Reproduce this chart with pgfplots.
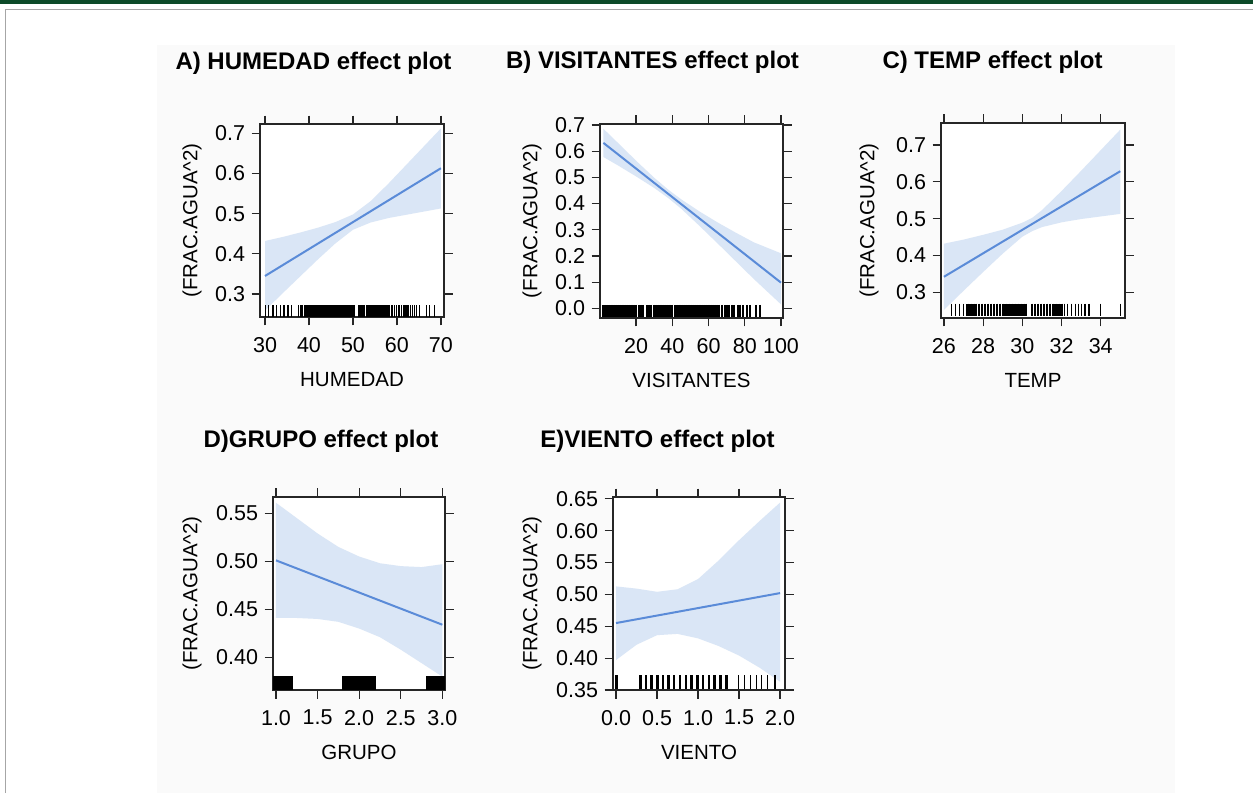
\documentclass[border=0pt]{standalone}
\usepackage{fontspec}
\setmainfont{Liberation Sans}
\usepackage{pgfplots}
\pgfplotsset{compat=1.18}
\definecolor{bandblue}{HTML}{DAE6F6}
\definecolor{fitblue}{HTML}{5A8BD8}
\definecolor{topgreen}{HTML}{0C4A28}
\definecolor{panelgrey}{HTML}{FAFAFA}

\pgfplotsset{effplot/.style={
    scale only axis, anchor=south west,
    axis background/.style={fill=white},
    axis line style={line width=1.3pt, black!85},
    tick align=outside, major tick length=8.5pt,
    tick style={line width=1.2pt, black!85},
    tick label style={font=\fontsize{21.5}{25}\selectfont},
    /pgf/number format/assume math mode=true,
    label style={font=\fontsize{20.5}{25}\selectfont},
    title style={font=\bfseries\fontsize{24}{28}\selectfont, anchor=base},
    xlabel style={at={([yshift=-69.5pt]axis description cs:0.5,0)}, anchor=base},
    xticklabel style={yshift=-8pt},
    yticklabel style={xshift=-3pt},
    ylabel={(FRAC.AGUA\textasciicircum 2)},
    clip marker paths=true,
    scaled ticks=false,
}}
\pgfplotsset{
    band/.style={fill=bandblue, draw=none},
    fit/.style={fitblue, line width=2pt},
    rug/.style={only marks, mark=|, black, mark options={line width=#1}},
}

\begin{document}
\begin{tikzpicture}[x=1pt,y=1pt]
\fill[white] (0,0) rectangle (1253,793);
\useasboundingbox (0,0) rectangle (1253,793);
\fill[panelgrey] (157,0) rectangle (1175,748);
\fill[topgreen] (0,789) rectangle (1253,793);
\draw[gray!70, line width=1.3pt] (5.5,0) -- (5.5,783.5) -- (1253,783.5);

% A) HUMEDAD
\begin{axis}[effplot, at={(260pt,476pt)}, width=184pt, height=193pt,
    xmin=28.86, xmax=70.7, ymin=0.243, ymax=0.723,
    xtick={30,40,50,60,70}, ytick={0.3,0.4,0.5,0.6,0.7},
    yticklabel style={/pgf/number format/.cd, fixed, fixed zerofill, precision=1},
    xlabel={HUMEDAD},
    ylabel style={at={([xshift=-68pt]axis description cs:0,0.5)}, anchor=center},
    title={A) HUMEDAD effect plot},
    title style={at={([xshift=-38.5pt,yshift=49pt]axis description cs:0.5,1)}}]
\addplot[band] coordinates {
    (30,0.432) (34,0.442) (38,0.453) (42,0.465) (46,0.479) (50,0.498)
    (54,0.531) (58,0.574) (62,0.620) (66,0.666) (70,0.712)
    (70,0.513) (66,0.505) (62,0.497) (58,0.489) (54,0.478) (50,0.460)
    (46,0.426) (42,0.386) (38,0.344) (34,0.302) (30,0.259)};
\addplot[fit] coordinates {(30,0.345) (70,0.613)};
\addplot[rug=1.3pt, mark size=6pt] table[y expr=0.2576] {
x
30.1
30.8
31.8
32.6
33.5
34.3
35.2
36.0
37.6
38.0
38.3
38.6
38.9
39.2
39.5
39.8
40.1
40.4
40.7
41.0
41.3
41.6
41.9
42.2
42.5
42.8
43.1
43.4
43.7
44.0
44.3
44.6
44.9
45.2
45.5
45.8
46.1
46.4
46.7
47.0
47.3
47.6
47.9
48.2
48.5
48.8
49.1
49.4
49.7
50.0
50.3
51.2
51.5
51.8
52.1
52.4
52.7
53.0
53.3
53.6
53.9
54.2
54.5
54.8
55.1
55.4
55.7
56.0
56.3
56.6
56.9
57.2
57.5
57.8
58.2
58.7
59.0
59.4
59.9
60.3
60.6
61.1
61.5
61.8
62.3
62.7
63.1
63.6
64.0
64.5
65.1
66.7
67.4
68.6
};
\end{axis}

% B) VISITANTES
\begin{axis}[effplot, at={(600pt,475pt)}, width=183pt, height=194pt,
    xmin=0.14, xmax=101.1, ymin=-0.037, ymax=0.704,
    xtick={20,40,60,80,100}, ytick={0,0.1,0.2,0.3,0.4,0.5,0.6,0.7},
    yticklabel style={/pgf/number format/.cd, fixed, fixed zerofill, precision=1},
    xlabel={VISITANTES},
    ylabel style={at={([xshift=-68pt]axis description cs:0,0.5)}, anchor=center},
    title={B) VISITANTES effect plot},
    title style={at={([xshift=-39pt,yshift=49pt]axis description cs:0.5,1)}}]
\addplot[band] coordinates {
    (2,0.686) (10,0.632) (20,0.564) (30,0.499) (38,0.452) (45,0.416)
    (55,0.370) (65,0.328) (75,0.289) (85,0.252) (100,0.210)
    (100,0.015) (85,0.112) (75,0.180) (65,0.248) (55,0.315) (45,0.380)
    (38,0.420) (30,0.460) (20,0.504) (10,0.546) (2,0.578)};
\addplot[fit] coordinates {(2,0.632) (100,0.098)};
\addplot[rug=2pt, mark size=6pt] table[y expr=-0.010] {
x
2
3
4
5
6
7
8
9
10
11
12
13
14
15
16
17
18
19
20
21.5
23
24
26
27
28.5
30
31
32
33
34
35
36
37
38
39
40
41.5
42.5
43.5
44.5
45.5
46.5
47.5
48.5
49.5
50.5
51.5
52.5
53.5
54.5
55.5
56.5
57.5
58.5
59.5
60.5
61.5
62.5
63.5
64.5
66
67.5
69
70
71.5
73
74
76
77.5
79
81
83
86
88.5
};
\end{axis}

% C) TEMP
\begin{axis}[effplot, at={(941pt,475pt)}, width=184pt, height=195pt,
    xmin=25.85, xmax=35.24, ymin=0.23, ymax=0.76,
    xtick={26,28,30,32,34}, ytick={0.3,0.4,0.5,0.6,0.7},
    yticklabel style={/pgf/number format/.cd, fixed, fixed zerofill, precision=1},
    xlabel={TEMP},
    ylabel style={at={([xshift=-72pt]axis description cs:0,0.5)}, anchor=center},
    title={C) TEMP effect plot},
    title style={at={([xshift=-40.5pt,yshift=48pt]axis description cs:0.5,1)}}]
\addplot[band] coordinates {
    (26,0.432) (27,0.443) (28,0.456) (29,0.470) (30,0.489) (30.5,0.502)
    (31,0.523) (32,0.575) (33,0.630) (34,0.686) (35,0.742)
    (35,0.513) (34,0.506) (33,0.499) (32,0.490) (31,0.477) (30.5,0.466)
    (30,0.451) (29,0.405) (28,0.355) (27,0.304) (26,0.252)};
\addplot[fit] coordinates {(26,0.342) (35,0.629)};
\addplot[rug=1.1pt, mark size=6.3pt] table[y expr=0.252] {
x
26.4
26.6
26.8
27.0
32.15
32.3
32.5
32.7
32.85
33.0
33.2
33.4
34.0
35.0
};
\addplot[rug=2.4pt, mark size=6.3pt] table[y expr=0.252] {
x
27.2
27.35
27.5
27.65
27.8
27.95
28.1
28.25
28.4
28.55
28.7
28.85
29.0
29.15
29.3
29.45
29.6
29.75
29.9
30.05
30.2
30.5
30.65
30.8
30.95
31.1
31.25
31.4
31.55
31.7
31.85
32.0
};
\end{axis}

% D) GRUPO
\begin{axis}[effplot, at={(273pt,103pt)}, width=172pt, height=193pt,
    xmin=0.964, xmax=3.032, ymin=0.366, ymax=0.567,
    xtick={1,1.5,2,2.5,3}, ytick={0.40,0.45,0.50,0.55},
    xticklabel style={/pgf/number format/.cd, fixed, fixed zerofill, precision=1},
    yticklabel style={/pgf/number format/.cd, fixed, fixed zerofill, precision=2},
    xlabel={GRUPO},
    ylabel style={at={([xshift=-81pt]axis description cs:0,0.5)}, anchor=center},
    title={D)GRUPO effect plot},
    title style={at={([xshift=-38pt,yshift=43.5pt]axis description cs:0.5,1)}}]
\addplot[band] coordinates {
    (1,0.561) (1.25,0.545) (1.5,0.529) (1.75,0.515) (2,0.505)
    (2.25,0.498) (2.5,0.495) (2.75,0.494) (3,0.497)
    (3,0.380) (2.75,0.394) (2.5,0.408) (2.25,0.421) (2,0.430)
    (1.75,0.437) (1.5,0.440) (1.25,0.441) (1,0.441)};
\addplot[fit] coordinates {(1,0.501) (3,0.434)};
\addplot[rug=3.5pt, mark size=7pt] table[y expr=0.373] {
x
0.98
1.02
1.06
1.10
1.14
1.18
1.82
1.86
1.90
1.94
1.98
2.02
2.06
2.10
2.14
2.18
2.82
2.86
2.90
2.94
2.98
3.02
};
\end{axis}

% E) VIENTO
\begin{axis}[effplot, at={(613pt,103pt)}, width=172pt, height=193pt,
    xmin=-0.037, xmax=2.06, ymin=0.35, ymax=0.6527,
    xtick={0,0.5,1,1.5,2}, ytick={0.35,0.40,0.45,0.50,0.55,0.60,0.65},
    xticklabel style={/pgf/number format/.cd, fixed, fixed zerofill, precision=1},
    yticklabel style={/pgf/number format/.cd, fixed, fixed zerofill, precision=2},
    xlabel={VIENTO},
    ylabel style={at={([xshift=-81pt]axis description cs:0,0.5)}, anchor=center},
    title={E)VIENTO effect plot},
    title style={at={([xshift=-41.5pt,yshift=43.5pt]axis description cs:0.5,1)}}]
\addplot[band] coordinates {
    (0,0.5125) (0.25,0.509) (0.5,0.504) (0.75,0.508) (1,0.524)
    (1.25,0.553) (1.5,0.585) (1.75,0.615) (2,0.644)
    (2,0.363) (1.75,0.385) (1.5,0.404) (1.25,0.419) (1,0.431)
    (0.75,0.438) (0.5,0.436) (0.25,0.421) (0,0.397)};
\addplot[fit] coordinates {(0,0.455) (2,0.502)};
\addplot[rug=3pt, mark size=7pt] table[y expr=0.362] {
x
0.0
};
\addplot[rug=2.6pt, mark size=7pt] table[y expr=0.362] {
x
0.296
0.365
0.433
0.502
0.571
0.640
0.709
0.782
0.851
0.920
0.993
1.062
1.135
1.204
1.273
1.350
};
\addplot[rug=1.1pt, mark size=7pt] table[y expr=0.362] {
x
1.492
1.569
1.634
1.707
1.776
1.844
1.938
};
\end{axis}
\end{tikzpicture}
\end{document}
